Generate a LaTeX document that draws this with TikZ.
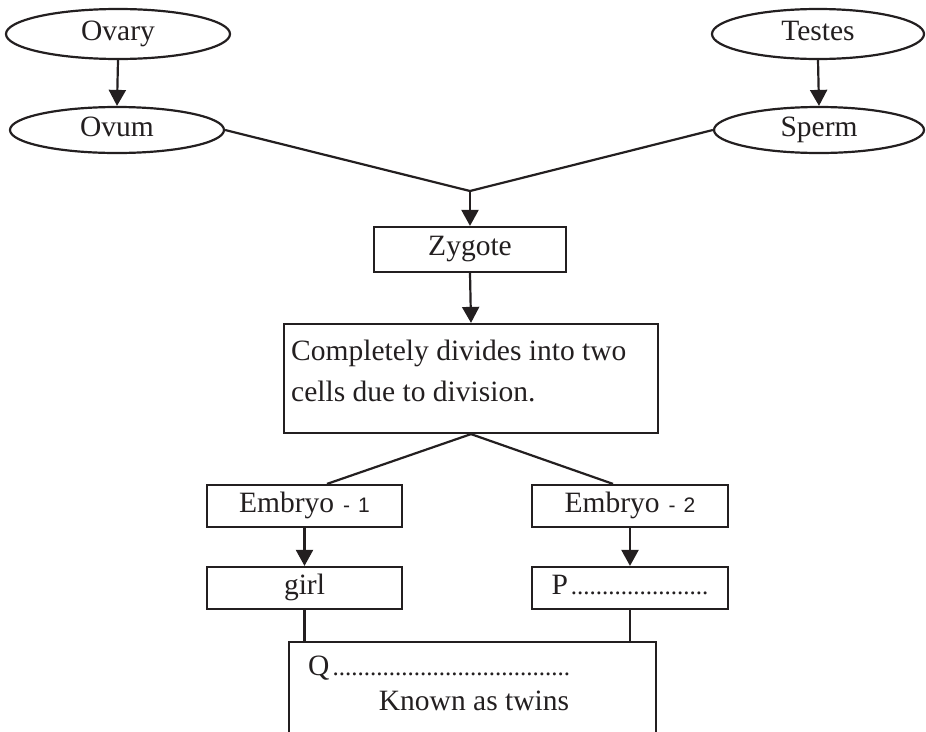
\documentclass[tikz,border=0pt]{standalone}
\usepackage{fontspec}
\setmainfont{Liberation Serif}
\newfontfamily\embsans{Liberation Sans}
\usetikzlibrary{shapes.geometric,arrows.meta,calc}

% a row of small fill-in dots
\newcommand\dotrow[1]{{\fontsize{25}{25}\selectfont\foreach \k in {1,...,#1}{.}}}
\newcommand\embnum[1]{{\embsans\fontsize{21}{22}\selectfont-\hspace{8pt}#1}}

\definecolor{ink}{HTML}{231F20}

\tikzset{
  lbl/.style={font=\fontsize{29.5}{41}\selectfont, text=ink, inner sep=0pt},
  oval/.style={lbl, ellipse, draw=ink, line width=2.2pt,
    text height=18.3pt, text depth=5.9pt},
  stepbox/.style={lbl, rectangle, draw=ink, line width=2.2pt,
    text height=18.3pt, text depth=5.9pt},
  link/.style={draw=ink, line width=2.2pt},
  flow/.style={link, -{Triangle[width=17pt,length=16pt]}},
}

\begin{document}
\begin{tikzpicture}[x=1pt, y=-1pt]
\useasboundingbox (0,0) rectangle (926,731);
\clip (0,0) rectangle (926,731);

% gametes and their sources
\node[oval, minimum width=224pt, minimum height=50pt] (ovary)  at (118,34)  {Ovary};
\node[oval, minimum width=214pt, minimum height=46pt] (ovum)   at (117,130) {Ovum};
\node[oval, minimum width=212pt, minimum height=50pt] (testes) at (818,34)  {Testes};
\node[oval, minimum width=210pt, minimum height=46pt] (sperm)  at (819,130) {Sperm};

% fertilisation and the zygote
\coordinate (join) at (470,191);
\node[stepbox, minimum width=192pt, minimum height=45pt] (zyg) at (470,249.5) {Zygote};

% cell division box
\node[stepbox, minimum width=374pt, minimum height=109pt] (div) at (471,378.5) {};
\node[lbl, anchor=base west] (divA) at (291,360) {Completely divides into two};
\node[lbl, anchor=base west] (divB) at (291,401) {cells due to division.};

% the two embryos
\node[stepbox, minimum width=195pt, minimum height=42pt] (emb1) at (304.5,506) {Embryo\hspace{9pt}\embnum{1}};
\node[stepbox, minimum width=196pt, minimum height=42pt] (emb2) at (630,506)   {Embryo\hspace{9pt}\embnum{2}};
\node[stepbox, minimum width=195pt, minimum height=42pt] (girl) at (304.5,588) {girl};
\node[stepbox, minimum width=196pt, minimum height=42pt] (pbox) at (630,588)   {P\hspace{3pt}\dotrow{22}};

% outcome box, open at the foot of the page
\node[stepbox, minimum width=367pt, minimum height=130pt] (twin) at (472.5,707) {};
\node[lbl, anchor=base west] (qline) at (308,675) {Q\hspace{3pt}\dotrow{38}};
\node[lbl, anchor=base] (twins) at (474,710) {Known as twins};

% connectors
\draw[flow] (ovary.south) -- (ovum.north);
\draw[flow] (testes.south) -- (sperm.north);
\draw[link] (ovum.east) -- (join) -- (sperm.west);
\draw[flow] (join) -- (zyg.north);
\draw[flow] (zyg.south) -- (div.north);
\draw[link] (div.south) -- ($(emb1.north)+(22.5,0)$);
\draw[link] (div.south) -- ($(emb2.north)+(-17,0)$);
\draw[flow] (emb1.south) -- (girl.north);
\draw[flow] (emb2.south) -- (pbox.north);
\draw[link] (girl.south) -- (girl.south |- twin.north);
\draw[link] (pbox.south) -- (pbox.south |- twin.north);
\end{tikzpicture}
\end{document}
